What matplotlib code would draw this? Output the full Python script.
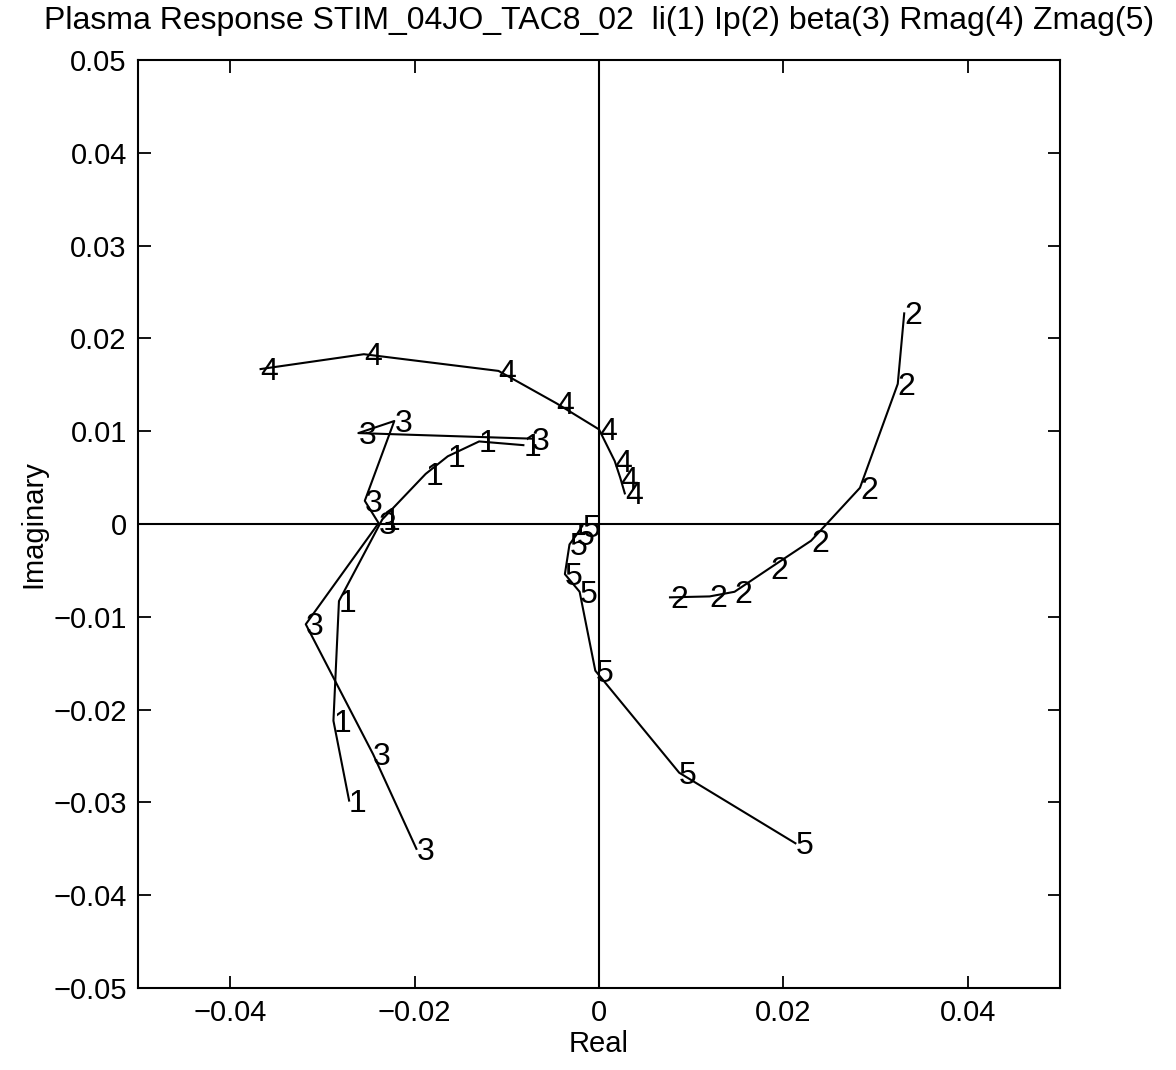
import matplotlib
matplotlib.use("Agg")
import matplotlib.pyplot as plt

plt.rcParams['font.family'] = ['Liberation Sans', 'DejaVu Sans']

# Series data (real, imaginary) for each plasma parameter
li_re = [-0.0271, -0.0288, -0.0282, -0.0235, -0.0188, -0.0164, -0.0130, -0.0082]
li_im = [-0.0298, -0.0212, -0.0083, 0.0005, 0.0054, 0.0073, 0.0089, 0.0085]

ip_re = [0.0331, 0.0324, 0.0283, 0.0230, 0.0186, 0.0147, 0.0120, 0.0077]
ip_im = [0.0227, 0.0151, 0.0039, -0.0018, -0.0047, -0.0073, -0.0078, -0.0079]

beta_re = [-0.0198, -0.0245, -0.0318, -0.0239, -0.0254, -0.0222, -0.0261, -0.0073]
beta_im = [-0.0350, -0.0248, -0.0108, 0.0001, 0.0025, 0.0111, 0.0098, 0.0092]

rmag_re = [-0.0367, -0.0255, -0.0109, -0.0046, 0.0000, 0.0017, 0.0023, 0.0028]
rmag_im = [0.0167, 0.0183, 0.0165, 0.0130, 0.0102, 0.0068, 0.0050, 0.0033]

zmag_re = [-0.0018, -0.0024, -0.0032, -0.0037, -0.0021, -0.0004, 0.0087, 0.0213]
zmag_im = [-0.0002, -0.0011, -0.0022, -0.0054, -0.0073, -0.0158, -0.0268, -0.0344]

series = [("1", li_re, li_im), ("2", ip_re, ip_im), ("3", beta_re, beta_im),
          ("4", rmag_re, rmag_im), ("5", zmag_re, zmag_im)]

xticks = [-0.04, -0.02, 0, 0.02, 0.04]
xticklabels = ["\u22120.04", "\u22120.02", "0", "0.02", "0.04"]
yticks = [-0.05, -0.04, -0.03, -0.02, -0.01, 0, 0.01, 0.02, 0.03, 0.04, 0.05]
yticklabels = ["\u22120.05", "\u22120.04", "\u22120.03", "\u22120.02", "\u22120.01", "0",
               "0.01", "0.02", "0.03", "0.04", "0.05"]

fig = plt.figure(figsize=(11.76, 10.70), dpi=100)
ax = fig.add_axes([0.1173, 0.0766, 0.7841, 0.8673])

ax.axhline(0, color='black', lw=1.5)
ax.axvline(0, color='black', lw=1.5)

for lab, re, im in series:
    ax.plot(re, im, color='black', lw=1.5)
    for x, y in zip(re, im):
        ax.annotate(lab, (x, y), xytext=(0, -3), textcoords='offset pixels',
                    ha='left', va='center', fontsize=23, color='black')

ax.set_xlim(-0.05, 0.05)
ax.set_ylim(-0.05, 0.05)
ax.set_xticks(xticks)
ax.set_xticklabels(xticklabels)
ax.set_yticks(yticks)
ax.set_yticklabels(yticklabels)
ax.tick_params(direction='in', length=9, width=1.3, top=True, right=True,
               labelsize=21, pad=8)
for s in ax.spines.values():
    s.set_linewidth(1.5)

ax.set_xlabel("Real", fontsize=21, labelpad=2)
ax.set_ylabel("Imaginary", fontsize=21, labelpad=4)
ax.set_title("Plasma Response STIM_04JO_TAC8_02  li(1) Ip(2) beta(3) Rmag(4) Zmag(5)",
             fontsize=23, pad=22)

fig.savefig("out.png", dpi=100, facecolor='white')
